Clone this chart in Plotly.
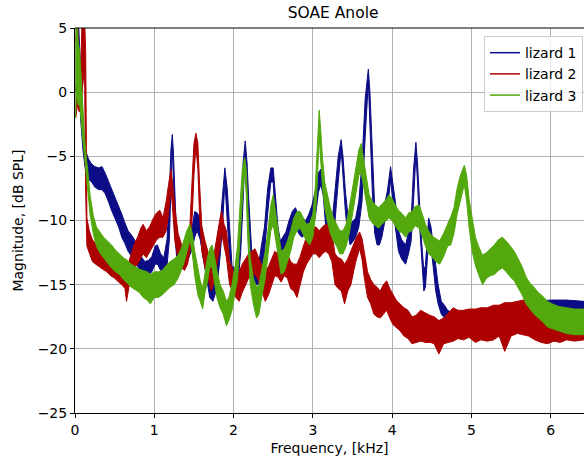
import plotly.graph_objects as go

# ---------------- data ----------------
# Each noisy spectrum is stored as frequency samples with the lower and
# upper edge of its noise band (dB SPL).

L1_FREQ = [0.01, 0.04, 0.07, 0.10, 0.13, 0.17, 0.21, 0.25, 0.30, 0.34, 0.38, 0.42, 0.46, 0.50, 0.55, 0.59,
           0.63, 0.67, 0.72, 0.76, 0.80, 0.84, 0.88, 0.93, 0.97, 1.01, 1.04, 1.08, 1.12, 1.16, 1.19, 1.21,
           1.227, 1.24, 1.26, 1.29, 1.33, 1.38, 1.43, 1.47, 1.51, 1.54, 1.58, 1.62, 1.66, 1.70, 1.74, 1.78,
           1.82, 1.86, 1.89, 1.92, 1.95, 1.98, 2.02, 2.06, 2.09, 2.12, 2.147, 2.17, 2.19, 2.23, 2.27, 2.31,
           2.35, 2.39, 2.43, 2.47, 2.50, 2.53, 2.56, 2.59, 2.63, 2.66, 2.70, 2.74, 2.78, 2.82, 2.86, 2.91,
           2.95, 2.99, 3.03, 3.07, 3.10, 3.13, 3.16, 3.20, 3.24, 3.28, 3.32, 3.357, 3.38, 3.41, 3.44, 3.47,
           3.51, 3.54, 3.58, 3.62, 3.66, 3.70, 3.72, 3.75, 3.78, 3.81, 3.84, 3.87, 3.91, 3.94, 3.98, 4.01,
           4.04, 4.08, 4.12, 4.17, 4.21, 4.24, 4.27, 4.30, 4.32, 4.34, 4.37, 4.40, 4.42, 4.46, 4.49, 4.52,
           4.55, 4.58, 4.62, 4.66, 4.70, 4.80, 5.00, 5.20, 5.40, 5.60, 5.80, 6.00, 6.20, 6.42]
L1_LO = [0.0, 3.0, -2.0, -4.5, -6.0, -6.8, -7.0, -7.4, -7.6, -7.6, -7.9, -8.5, -9.2, -9.8, -10.5, -11.3,
         -11.8, -12.4, -12.8, -13.2, -13.7, -13.9, -14.2, -14.2, -14.0, -13.4, -13.4, -13.9, -14.0, -13.6, -11.5, -7.5,
         -4.0, -6.5, -11.0, -13.6, -13.8, -13.6, -13.0, -12.4, -11.3, -10.8, -11.5, -12.9, -14.5, -16.0, -16.3, -15.5,
         -13.5, -10.5, -7.0, -10.0, -12.9, -15.0, -15.0, -14.6, -12.5, -8.5, -4.5, -8.0, -10.3, -14.0, -15.0, -15.0,
         -13.8, -12.5, -9.5, -7.0, -7.0, -10.8, -12.5, -13.4, -12.8, -12.4, -11.6, -10.8, -10.3, -11.0, -11.3, -11.1,
         -10.8, -10.3, -9.8, -7.8, -7.2, -8.0, -10.3, -11.3, -11.6, -10.0, -7.0, -4.5, -6.5, -9.3, -11.0, -11.9,
         -11.6, -11.3, -10.5, -8.5, -3.5, 0.8, -2.0, -7.7, -11.0, -11.9, -11.9, -11.3, -10.0, -9.3, -6.8, -8.5,
         -10.5, -12.4, -13.0, -13.4, -12.5, -11.6, -8.5, -4.8, -7.0, -9.8, -13.0, -15.5, -15.2, -11.6, -12.0, -13.5,
         -15.5, -16.5, -17.3, -17.6, -17.8, -18.6, -19.0, -19.0, -18.8, -18.6, -17.8, -17.6, -17.6, -17.5]
L1_HI = [6.0, 6.0, 2.0, -2.5, -4.5, -5.2, -5.6, -5.8, -5.9, -5.8, -6.3, -6.9, -7.5, -8.0, -8.8, -9.5,
         -10.2, -10.8, -11.2, -11.6, -12.5, -12.9, -13.2, -13.1, -12.8, -12.0, -11.9, -12.6, -12.9, -11.5, -8.0, -4.5,
         -3.3, -4.5, -8.0, -12.8, -12.6, -12.4, -11.8, -10.8, -9.3, -9.4, -9.8, -11.3, -12.8, -14.8, -15.0, -14.0,
         -11.0, -7.5, -5.9, -7.5, -11.0, -13.5, -13.8, -13.2, -10.5, -5.5, -3.8, -5.5, -8.2, -12.5, -13.6, -13.7,
         -12.0, -10.5, -7.5, -5.9, -5.9, -8.2, -10.5, -11.6, -11.2, -10.9, -10.0, -9.3, -9.0, -9.6, -9.8, -10.0,
         -9.5, -8.8, -7.7, -6.3, -6.0, -6.8, -8.5, -9.8, -10.3, -7.5, -5.0, -3.7, -5.0, -7.7, -9.5, -10.3,
         -10.0, -9.8, -8.5, -5.5, -0.5, 1.8, 0.0, -5.1, -9.0, -10.4, -10.6, -9.8, -8.5, -7.7, -5.8, -7.0,
         -8.5, -10.8, -11.5, -11.9, -10.8, -10.0, -6.0, -3.9, -5.5, -8.2, -11.5, -13.9, -13.5, -9.8, -10.5, -12.0,
         -13.7, -15.0, -16.3, -16.6, -17.0, -17.3, -17.2, -17.1, -17.0, -16.8, -16.3, -16.2, -16.2, -16.3]

L2_FREQ = [0.01, 0.03, 0.05, 0.07, 0.09, 0.12, 0.135, 0.15, 0.18, 0.22, 0.26, 0.30, 0.35, 0.40, 0.45, 0.50,
           0.55, 0.59, 0.63, 0.65, 0.68, 0.71, 0.75, 0.79, 0.83, 0.86, 0.90, 0.94, 0.99, 1.03, 1.07, 1.11,
           1.15, 1.18, 1.21, 1.23, 1.26, 1.30, 1.34, 1.38, 1.42, 1.45, 1.48, 1.50, 1.525, 1.55, 1.57, 1.60,
           1.64, 1.68, 1.72, 1.76, 1.80, 1.83, 1.85, 1.88, 1.91, 1.95, 1.99, 2.03, 2.07, 2.11, 2.15, 2.19,
           2.23, 2.27, 2.31, 2.35, 2.40, 2.44, 2.48, 2.52, 2.56, 2.60, 2.64, 2.68, 2.72, 2.76, 2.80, 2.84,
           2.88, 2.92, 2.96, 3.00, 3.04, 3.08, 3.12, 3.16, 3.20, 3.24, 3.28, 3.32, 3.36, 3.40, 3.44, 3.48,
           3.52, 3.55, 3.59, 3.62, 3.65, 3.69, 3.73, 3.77, 3.81, 3.85, 3.89, 3.93, 3.97, 4.01, 4.05, 4.10,
           4.15, 4.20, 4.25, 4.30, 4.36, 4.42, 4.48, 4.53, 4.59, 4.65, 4.71, 4.77, 4.83, 4.90, 4.97, 5.05,
           5.12, 5.20, 5.28, 5.35, 5.42, 5.50, 5.58, 5.65, 5.72, 5.80, 5.88, 5.96, 6.04, 6.12, 6.20, 6.30, 6.42]
L2_LO = [-2.0, -1.0, -1.5, -1.5, 0.0, 2.0, -8.0, -12.0, -12.6, -13.2, -13.4, -13.6, -13.8, -14.0, -14.3, -14.5,
         -14.8, -15.0, -15.3, -16.3, -15.2, -14.3, -13.7, -13.4, -13.0, -12.6, -12.9, -12.5, -11.9, -11.5, -11.3, -11.3,
         -10.8, -9.5, -7.5, -9.0, -11.6, -13.0, -13.6, -13.9, -13.4, -12.4, -9.5, -6.5, -4.2, -6.0, -9.5, -12.4,
         -13.7, -14.6, -15.5, -14.6, -13.0, -12.0, -11.0, -12.0, -12.9, -15.0, -15.5, -16.0, -16.3, -15.6, -15.0, -14.5,
         -14.3, -14.2, -14.6, -15.3, -16.3, -15.8, -15.0, -14.3, -14.4, -14.8, -14.3, -14.5, -15.3, -15.5, -16.0, -15.0,
         -14.0, -13.4, -13.0, -12.6, -12.6, -12.9, -12.6, -12.4, -12.6, -13.2, -15.0, -15.3, -15.5, -16.5, -15.5, -15.0,
         -13.8, -13.0, -12.2, -13.0, -14.5, -16.0, -16.5, -17.3, -17.5, -17.6, -17.3, -17.0, -17.6, -18.1, -18.3, -18.6,
         -19.0, -19.2, -19.6, -19.5, -19.4, -19.5, -19.5, -19.6, -20.4, -19.6, -19.5, -19.4, -19.2, -19.3, -19.1, -19.5,
         -19.3, -19.4, -19.3, -19.0, -20.2, -19.0, -18.8, -18.9, -19.0, -19.3, -19.5, -19.6, -19.4, -19.5, -19.3, -19.4, -19.3]
L2_HI = [4.0, 6.0, 2.0, 1.0, 6.0, 6.0, 3.0, -9.8, -10.8, -11.5, -11.8, -11.9, -12.0, -12.3, -12.6, -12.9,
         -13.2, -13.4, -13.5, -13.7, -13.2, -12.6, -11.8, -11.3, -10.6, -10.3, -10.8, -10.5, -9.8, -9.4, -9.2, -9.8,
         -8.5, -7.2, -6.0, -7.0, -9.0, -11.0, -11.8, -12.4, -11.8, -10.3, -6.5, -4.0, -3.2, -4.0, -7.0, -10.5,
         -11.6, -12.6, -13.4, -12.4, -10.8, -9.8, -9.3, -10.3, -10.8, -13.2, -13.8, -14.5, -14.0, -13.4, -13.0, -12.6,
         -12.4, -12.2, -12.8, -13.4, -13.9, -13.6, -13.0, -12.4, -12.6, -13.0, -12.5, -12.6, -13.2, -13.4, -13.4, -12.8,
         -12.0, -11.3, -11.0, -10.6, -10.5, -10.8, -10.5, -10.3, -10.4, -11.0, -12.6, -12.9, -13.0, -13.4, -13.0, -12.4,
         -11.8, -11.3, -10.9, -11.4, -12.5, -14.0, -14.6, -15.0, -15.2, -15.5, -15.0, -14.7, -15.3, -15.7, -16.2, -16.5,
         -16.8, -17.0, -17.5, -17.4, -17.0, -17.2, -17.4, -17.5, -17.8, -17.6, -17.2, -16.8, -17.0, -17.0, -16.9, -16.9,
         -16.8, -16.8, -16.6, -16.6, -16.4, -16.4, -16.3, -16.2, -16.3, -16.5, -16.8, -17.0, -16.9, -17.0, -16.9, -17.0, -17.0]

L3_FREQ = [0.005, 0.02, 0.04, 0.06, 0.08, 0.10, 0.12, 0.14, 0.16, 0.19, 0.23, 0.27, 0.31, 0.36, 0.41, 0.46,
           0.51, 0.56, 0.61, 0.66, 0.71, 0.76, 0.81, 0.86, 0.91, 0.95, 1.00, 1.05, 1.10, 1.15, 1.20, 1.25,
           1.30, 1.34, 1.38, 1.41, 1.45, 1.48, 1.51, 1.55, 1.58, 1.61, 1.64, 1.67, 1.70, 1.73, 1.76, 1.79,
           1.83, 1.87, 1.91, 1.94, 1.98, 2.02, 2.05, 2.08, 2.11, 2.14, 2.16, 2.18, 2.21, 2.25, 2.29, 2.32,
           2.36, 2.40, 2.44, 2.47, 2.50, 2.53, 2.56, 2.60, 2.64, 2.68, 2.72, 2.76, 2.80, 2.84, 2.88, 2.92,
           2.96, 3.00, 3.03, 3.05, 3.08, 3.10, 3.12, 3.15, 3.18, 3.22, 3.26, 3.30, 3.34, 3.38, 3.42, 3.46,
           3.50, 3.54, 3.58, 3.61, 3.64, 3.67, 3.71, 3.75, 3.79, 3.83, 3.87, 3.92, 3.96, 4.00, 4.04, 4.08,
           4.13, 4.17, 4.21, 4.25, 4.29, 4.34, 4.38, 4.42, 4.46, 4.50, 4.55, 4.60, 4.65, 4.70, 4.74, 4.78,
           4.82, 4.86, 4.91, 4.94, 4.97, 5.01, 5.05, 5.09, 5.14, 5.19, 5.24, 5.29, 5.34, 5.39, 5.44, 5.49,
           5.54, 5.59, 5.64, 5.69, 5.74, 5.79, 5.84, 5.90, 5.96, 6.02, 6.10, 6.20, 6.30, 6.42]
L3_LO = [-2.0, 0.0, -1.0, -1.0, -2.0, -3.8, -5.0, -6.5, -7.8, -9.5, -11.0, -12.0, -12.5, -12.9, -13.3, -13.7,
         -14.0, -14.2, -14.6, -14.9, -15.2, -15.4, -15.6, -16.0, -16.2, -16.5, -16.0, -16.0, -15.8, -15.5, -15.2, -15.0,
         -14.5, -13.9, -13.2, -12.6, -11.5, -12.6, -14.3, -15.8, -16.3, -16.9, -15.6, -14.8, -13.6, -13.7, -14.8, -16.0,
         -16.8, -17.3, -18.2, -17.8, -17.0, -15.6, -14.6, -12.0, -8.5, -6.0, -8.0, -11.5, -15.0, -16.5, -17.6, -17.3,
         -15.8, -14.5, -12.6, -10.8, -10.3, -11.3, -12.6, -14.2, -14.0, -13.3, -12.4, -11.3, -10.8, -10.6, -11.1, -11.6,
         -11.9, -11.3, -9.8, -7.8, -3.5, -5.0, -7.3, -9.0, -10.0, -11.0, -11.6, -12.0, -12.6, -12.6, -12.0, -11.0,
         -9.5, -8.0, -6.5, -6.3, -7.3, -8.5, -9.8, -10.2, -10.4, -10.6, -10.3, -10.0, -9.8, -10.0, -10.4, -10.8,
         -11.0, -11.3, -10.9, -10.8, -10.4, -10.6, -11.2, -12.0, -12.6, -12.8, -13.2, -13.4, -12.8, -12.0, -11.9, -11.0,
         -9.5, -8.5, -7.2, -8.5, -10.5, -12.4, -13.5, -14.2, -15.0, -14.5, -14.3, -14.2, -13.9, -13.7, -14.0, -14.4,
         -14.7, -15.3, -15.8, -16.5, -16.9, -17.3, -17.6, -17.9, -18.3, -18.4, -18.6, -18.8, -18.9, -18.9]
L3_HI = [6.0, 6.0, 4.0, 3.0, 1.0, -1.5, -3.5, -5.0, -6.0, -8.0, -9.6, -10.5, -10.9, -11.3, -11.6, -11.9,
         -12.3, -12.6, -12.9, -13.1, -13.4, -13.6, -13.8, -13.9, -14.0, -14.2, -14.0, -14.0, -13.9, -13.5, -13.2, -13.0,
         -12.7, -12.2, -11.5, -10.8, -10.3, -11.0, -12.4, -13.9, -14.7, -15.3, -13.9, -12.9, -12.2, -11.9, -12.8, -13.9,
         -15.0, -15.5, -16.3, -16.0, -15.0, -13.5, -12.0, -9.0, -6.0, -5.1, -6.0, -9.0, -12.9, -14.5, -15.2, -15.0,
         -13.6, -12.4, -10.5, -8.8, -8.0, -9.3, -10.5, -12.4, -12.2, -11.6, -10.8, -9.8, -9.3, -9.3, -9.8, -10.3,
         -10.2, -9.5, -7.5, -5.0, -1.4, -3.0, -5.0, -7.0, -7.8, -9.0, -9.8, -10.3, -10.8, -10.8, -10.3, -9.0,
         -7.5, -6.0, -4.5, -4.0, -5.3, -6.5, -8.0, -8.5, -8.8, -9.0, -8.7, -8.4, -8.0, -8.3, -8.8, -9.2,
         -9.5, -9.8, -9.4, -9.3, -8.9, -8.8, -9.5, -10.3, -10.8, -11.2, -11.4, -11.6, -11.0, -10.3, -9.7, -9.0,
         -7.5, -6.5, -5.7, -6.5, -8.3, -9.8, -11.3, -12.0, -12.7, -12.5, -12.2, -11.9, -11.5, -11.3, -11.6, -12.0,
         -12.4, -13.0, -13.6, -14.4, -14.9, -15.2, -15.6, -15.9, -16.3, -16.5, -16.7, -16.8, -16.9, -16.9]

SERIES_NAMES = ["lizard 1", "lizard 2", "lizard 3"]
COLORS = ["#0c0c86", "#ad0000", "#52a80c"]
X_TICKS = [0, 1, 2, 3, 4, 5, 6]
Y_TICKS = [5, 0, -5, -10, -15, -20, -25]

# ---------------- figure ----------------
fig = go.Figure()

series = [(L1_FREQ, L1_LO, L1_HI), (L2_FREQ, L2_LO, L2_HI), (L3_FREQ, L3_LO, L3_HI)]
for (f, lo, hi), name, col in zip(series, SERIES_NAMES, COLORS):
    xs = list(f) + list(f)[::-1]
    ys = list(hi) + list(lo)[::-1]
    fig.add_trace(go.Scatter(x=xs, y=ys, mode="lines", fill="toself", fillcolor=col,
                             line=dict(color=col, width=1), showlegend=False,
                             hoverinfo="skip", name=name))

for name, col in zip(SERIES_NAMES, COLORS):
    fig.add_trace(go.Scatter(x=[None], y=[None], mode="lines", name=name,
                             line=dict(color=col, width=1.5)))

font_family = "DejaVu Sans, sans-serif"
fig.update_layout(
    width=584, height=461,
    margin=dict(l=75, r=0, t=28, b=48),
    paper_bgcolor="white", plot_bgcolor="white",
    font=dict(family=font_family, size=14, color="#000000"),
    title=dict(text="SOAE Anole", x=0.507, xanchor="center", xref="paper",
               y=1 - 13 / 461, yref="container", yanchor="middle",
               font=dict(size=15.5, family=font_family, color="#000000")),
    legend=dict(x=0.998, xanchor="right", y=0.979, yanchor="top",
                bgcolor="rgba(255,255,255,0.8)", bordercolor="#cccccc", borderwidth=1,
                font=dict(size=14, family=font_family), tracegroupgap=0),
    showlegend=True,
)
fig.update_xaxes(range=[0, 6.42], tickvals=X_TICKS, ticktext=[str(v) for v in X_TICKS],
                 ticks="outside", ticklen=4, tickcolor="black",
                 tickfont=dict(size=14, family=font_family),
                 showline=True, linecolor="black", linewidth=1,
                 showgrid=True, gridcolor="#b0b0b0", gridwidth=1, zeroline=False,
                 title=dict(text="Frequency, [kHz]", standoff=6,
                            font=dict(size=14, family=font_family)))
fig.update_yaxes(range=[-25, 5], tickvals=Y_TICKS,
                 ticktext=[("\u2212" + str(-v)) if v < 0 else str(v) for v in Y_TICKS],
                 ticks="outside", ticklen=4, tickcolor="black",
                 tickfont=dict(size=14, family=font_family),
                 showline=True, linecolor="black", linewidth=1,
                 showgrid=True, gridcolor="#b0b0b0", gridwidth=1, zeroline=False,
                 title=dict(text="Magnitude, [dB SPL]", standoff=10,
                            font=dict(size=14, family=font_family)))
# top spine
fig.add_shape(type="line", xref="paper", yref="paper", x0=0, x1=1, y0=1, y1=1,
              line=dict(color="black", width=1))

fig.write_html("out.html")
